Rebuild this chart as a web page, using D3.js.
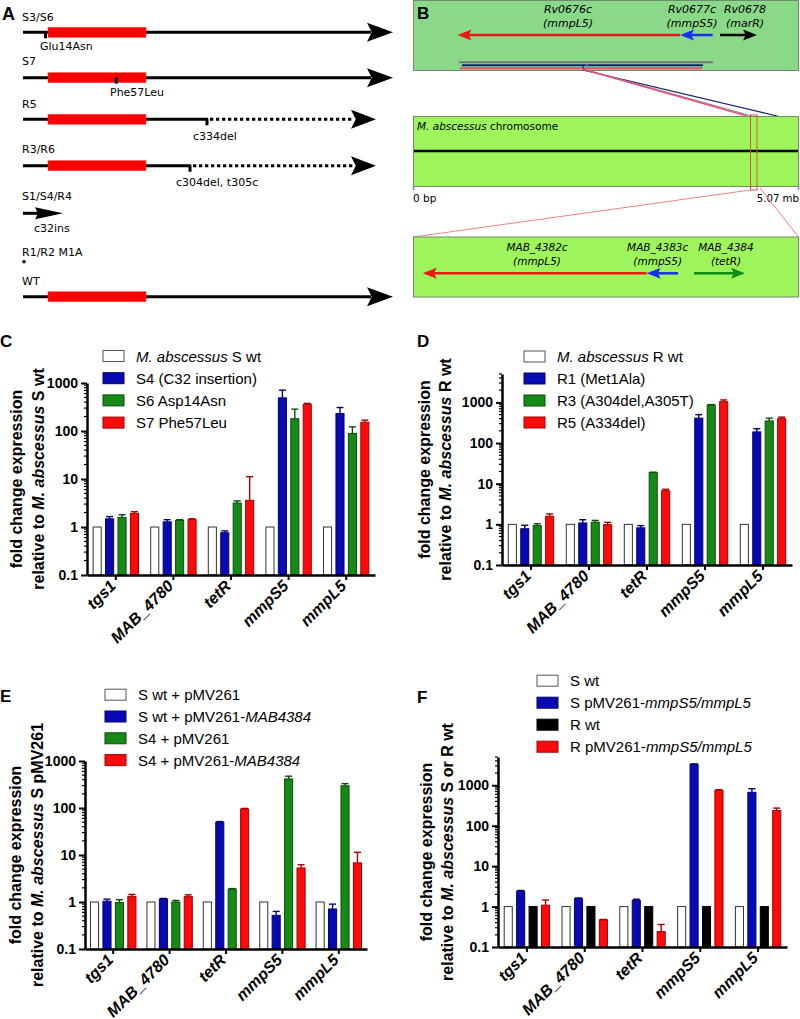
<!DOCTYPE html>
<html><head><meta charset="utf-8">
<script src="https://cdn.jsdelivr.net/npm/d3@7"></script>
<style>body{margin:0;background:#fff}svg{display:block}</style>
</head><body><svg id="fig" width="800" height="1019"></svg>
<script>
// ---------- DATA ----------
const genes = ["tgs1", "MAB_4780", "tetR", "mmpS5", "mmpL5"];
const majorTicks = [0.1, 1, 10, 100, 1000];

// Panel C
const cLabels = [[["M. abscessus", true], [" S wt", false]], [["S4 (C32 insertion)", false]], [["S6 Asp14Asn", false]], [["S7 Phe57Leu", false]]];
const cWt = [1, 1, 1, 1, 1];
const cS4 = [1.48, 1.28, 0.76, 490, 232];
const cS4Err = [1.65, 1.42, 0.83, 710, 308];
const cS6 = [1.58, 1.38, 3.15, 180, 89];
const cS6Err = [1.8, 1.42, 3.5, 285, 122];
const cS7 = [1.92, 1.42, 3.6, 358, 152];
const cS7Err = [2.08, 1.48, 11.2, 376, 168];

// Panel D
const dLabels = [[["M. abscessus", true], [" R wt", false]], [["R1 (Met1Ala)", false]], [["R3 (A304del,A305T)", false]], [["R5 (A334del)", false]]];
const dWt = [1, 1, 1, 1, 1];
const dR1 = [0.78, 1.08, 0.82, 410, 188];
const dR1Err = [0.95, 1.3, 0.93, 500, 225];
const dR3 = [0.93, 1.13, 18.8, 860, 350];
const dR3Err = [1.03, 1.25, 19.2, 885, 410];
const dR5 = [1.58, 0.98, 6.7, 1040, 398];
const dR5Err = [1.8, 1.12, 7.3, 1150, 435];

// Panel E
const eLabels = [[["S wt + pMV261", false]], [["S wt + pMV261-", false], ["MAB4384", true]], [["S4 + pMV261", false]], [["S4 + pMV261-", false], ["MAB4384", true]]];
const eWt = [1, 1, 1, 1, 1];
const eBlue = [1.04, 1.16, 50, 0.52, 0.71];
const eBlueErr = [1.15, 1.19, 51.5, 0.63, 0.9];
const eGreen = [0.97, 1.0, 1.88, 415, 297];
const eGreenErr = [1.12, 1.08, 1.93, 475, 330];
const eRed = [1.32, 1.3, 95, 5.3, 6.8];
const eRedErr = [1.45, 1.42, 98, 6.2, 11.4];

// Panel F
const fLabels = [[["S wt", false]], [["S pMV261-", false], ["mmpS5/mmpL5", true]], [["R wt", false]], [["R pMV261-", false], ["mmpS5/mmpL5", true]]];
const fSwt = [1, 1, 1, 1, 1];
const fBlue = [2.4, 1.58, 1.42, 3300, 670];
const fBlueErr = [2.5, 1.63, 1.52, 3380, 820];
const fRwt = [1, 1, 1, 1, 1];
const fRed = [1.08, 0.47, 0.24, 745, 238];
const fRedErr = [1.45, 0.48, 0.36, 775, 272];

// ---------- STYLE ----------
const C_WHITE = {fill: "#ffffff", stroke: "#333"};
const C_BLUE = {fill: "#0a0ab4", stroke: "#03036a"};
const C_GREEN = {fill: "#168a16", stroke: "#0a4d0a"};
const C_RED = {fill: "#ff0a0a", stroke: "#a00000"};
const C_BLACK = {fill: "#000000", stroke: "#000"};
const ARIAL = "'Liberation Sans', Arial, sans-serif";
const VERD = "'DejaVu Sans', Verdana, sans-serif";

const svg = d3.select("#fig");

function rich(textSel, parts) {
  parts.forEach(([t, it]) => {
    textSel.append("tspan").text(t).attr("font-style", it ? "italic" : null);
  });
  return textSel;
}

function drawBarPanel(p) {
  const g = svg.append("g");
  const y = d3.scaleLog().domain([0.1, p.yMax]).range([p.yBottom, p.yTop]);
  const x = d3.scaleBand().domain(genes).range([p.x0, p.x1]);
  const inner = d3.scaleBand().domain(d3.range(p.series.length)).range([-22.7, 22.7]).paddingInner(0.35);

  p.series.forEach((s, si) => {
    const sg = g.append("g");
    const cx = i => x(genes[i]) + x.bandwidth() / 2 + inner(si);
    sg.selectAll("rect").data(s.values).join("rect")
      .attr("x", (d, i) => cx(i))
      .attr("y", d => y(d))
      .attr("width", inner.bandwidth())
      .attr("height", d => p.yBottom - y(d))
      .attr("fill", s.col.fill).attr("stroke", s.col.stroke).attr("stroke-width", 1);
    if (s.errors) {
      const eg = sg.append("g").attr("stroke", s.col.stroke).attr("stroke-width", 1.4);
      s.errors.forEach((e, i) => {
        const mx = cx(i) + inner.bandwidth() / 2;
        eg.append("line").attr("x1", mx).attr("x2", mx).attr("y1", y(s.values[i])).attr("y2", y(e));
        eg.append("line").attr("x1", mx - 3.5).attr("x2", mx + 3.5).attr("y1", y(e)).attr("y2", y(e));
      });
    }
  });

  // minor ticks
  const minor = [];
  for (let k = -1; k <= 3; k++) for (let m = 2; m <= 9; m++) { const v = m * Math.pow(10, k); if (v <= p.yMax * 1.0001) minor.push(v); }
  g.append("g").selectAll("line").data(minor).join("line")
    .attr("x1", p.x0 - 3).attr("x2", p.x0).attr("y1", d => y(d)).attr("y2", d => y(d))
    .attr("stroke", "#000").attr("stroke-width", 1.2);

  const ya = g.append("g").attr("transform", `translate(${p.x0},0)`)
    .call(d3.axisLeft(y).tickValues(majorTicks).tickFormat(d => d < 1 ? "0.1" : String(d)).tickSize(6).tickSizeOuter(0));
  ya.select(".domain").attr("stroke-width", 2.5);
  ya.selectAll(".tick line").attr("stroke-width", 2);
  ya.selectAll(".tick text").attr("font-family", ARIAL).attr("font-weight", "bold").attr("font-size", 14).attr("fill", "#000");

  const xa = g.append("g").attr("transform", `translate(0,${p.yBottom})`)
    .call(d3.axisBottom(x).tickSize(5).tickSizeOuter(0));
  xa.select(".domain").attr("stroke-width", 2.5);
  xa.selectAll(".tick line").attr("stroke-width", 2);
  xa.selectAll(".tick text").remove();
  g.append("g").selectAll("text").data(genes).join("text")
    .attr("transform", d => `translate(${x(d) + x.bandwidth() / 2 + 1},${p.yBottom + 12}) rotate(-45)`)
    .attr("text-anchor", "end").attr("font-family", ARIAL).attr("font-weight", "bold")
    .attr("font-style", "italic").attr("font-size", 16).text(d => d);

  // y label
  const cy = (p.yBottom + p.yTop) / 2;
  g.append("text").attr("transform", `translate(${p.lab1},${cy}) rotate(-90)`)
    .attr("text-anchor", "middle").attr("font-family", ARIAL).attr("font-weight", "bold").attr("font-size", 16)
    .text("fold change expression");
  rich(g.append("text").attr("transform", `translate(${p.lab2},${cy}) rotate(-90)`)
    .attr("text-anchor", "middle").attr("font-family", ARIAL).attr("font-weight", "bold").attr("font-size", 16), p.ylab2);

  // legend
  p.series.forEach((s, i) => {
    const ly = p.legY + i * p.legDy;
    g.append("rect").attr("x", p.legX).attr("y", ly - 5.5).attr("width", 21).attr("height", 11)
      .attr("fill", s.col.fill).attr("stroke", s.col.stroke === "#333" ? "#555" : s.col.stroke).attr("stroke-width", 1);
    rich(g.append("text").attr("x", p.legX + 33).attr("y", ly + 5.5)
      .attr("font-family", ARIAL).attr("font-size", 15), s.label);
  });

  g.append("text").attr("x", p.letter[0]).attr("y", p.letter[1]).attr("font-family", ARIAL)
    .attr("font-weight", "bold").attr("font-size", 17).text(p.letter[2]);
}

drawBarPanel({
  x0: 87, x1: 375, yBottom: 575, yTop: 383, yMax: 1000,
  series: [
    {label: cLabels[0], values: cWt, col: C_WHITE},
    {label: cLabels[1], values: cS4, errors: cS4Err, col: C_BLUE},
    {label: cLabels[2], values: cS6, errors: cS6Err, col: C_GREEN},
    {label: cLabels[3], values: cS7, errors: cS7Err, col: C_RED}
  ],
  legX: 103, legY: 356, legDy: 22.2,
  lab1: 22, lab2: 44, ylab2: [["relative to ", false], ["M. abscessus", true], [" S wt", false]],
  letter: [0, 347, "C"]
});
drawBarPanel({
  x0: 502, x1: 792, yBottom: 565, yTop: 374, yMax: 5000,
  series: [
    {label: dLabels[0], values: dWt, col: C_WHITE},
    {label: dLabels[1], values: dR1, errors: dR1Err, col: C_BLUE},
    {label: dLabels[2], values: dR3, errors: dR3Err, col: C_GREEN},
    {label: dLabels[3], values: dR5, errors: dR5Err, col: C_RED}
  ],
  legX: 524, legY: 356.5, legDy: 22,
  lab1: 430, lab2: 451, ylab2: [["relative to ", false], ["M. abscessus", true], [" R wt", false]],
  letter: [417, 347, "D"]
});
drawBarPanel({
  x0: 85, x1: 367, yBottom: 949, yTop: 761, yMax: 1000,
  series: [
    {label: eLabels[0], values: eWt, col: C_WHITE},
    {label: eLabels[1], values: eBlue, errors: eBlueErr, col: C_BLUE},
    {label: eLabels[2], values: eGreen, errors: eGreenErr, col: C_GREEN},
    {label: eLabels[3], values: eRed, errors: eRedErr, col: C_RED}
  ],
  legX: 105, legY: 694.7, legDy: 21.8,
  lab1: 21, lab2: 43, ylab2: [["relative to ", false], ["M. abscessus", true], [" S pMV261", false]],
  letter: [0, 702, "E"]
});
drawBarPanel({
  x0: 498, x1: 787, yBottom: 947, yTop: 757, yMax: 5000,
  series: [
    {label: fLabels[0], values: fSwt, col: C_WHITE},
    {label: fLabels[1], values: fBlue, errors: fBlueErr, col: C_BLUE},
    {label: fLabels[2], values: fRwt, col: C_BLACK},
    {label: fLabels[3], values: fRed, errors: fRedErr, col: C_RED}
  ],
  legX: 537, legY: 680.7, legDy: 22,
  lab1: 432, lab2: 453, ylab2: [["relative to ", false], ["M. abscessus", true], [" S or R wt", false]],
  letter: [417, 703, "F"]
});

// ---------- PANEL A ----------
const A = svg.append("g");
function stealth(g, tip, back, y, h, color, dir) {
  const notch = back + dir * (h * 0.5);
  g.append("path").attr("d", `M${tip},${y} L${back},${y - h} L${notch},${y} L${back},${y + h} Z`).attr("fill", color);
}
const aRows = [
  {label: "S3/S6", ly: 20.5, y: 32.3, box: true, solidEnd: 370, tip: 393, mut: 45.5, mutTxt: "Glu14Asn", mtx: 40, mty: 50},
  {label: "S7", ly: 65, y: 77.7, box: true, solidEnd: 370, tip: 393, mut: 116.3, mutTxt: "Phe57Leu", mtx: 110, mty: 96},
  {label: "R5", ly: 108.3, y: 119.3, box: true, solidEnd: 207, dotEnd: 353, tip: 376, mut: 207, mutTxt: "c334del", mtx: 193, mty: 140},
  {label: "R3/R6", ly: 153.3, y: 165.7, box: true, solidEnd: 190, dotEnd: 353, tip: 376, mut: 190, mutTxt: "c304del, t305c", mtx: 176, mty: 186},
  {label: "WT", ly: 285, y: 296.7, box: true, solidEnd: 370, tip: 393}
];
aRows.forEach(r => {
  A.append("text").attr("x", 22).attr("y", r.ly).attr("font-family", VERD).attr("font-size", 11).text(r.label);
  A.append("line").attr("x1", 23).attr("x2", r.solidEnd + 1).attr("y1", r.y).attr("y2", r.y).attr("stroke", "#000").attr("stroke-width", 3);
  if (r.dotEnd) {
    A.append("line").attr("x1", r.solidEnd + 3).attr("x2", r.dotEnd).attr("y1", r.y).attr("y2", r.y)
      .attr("stroke", "#000").attr("stroke-width", 3).attr("stroke-dasharray", "3.3,2.7");
    stealth(A, r.tip, r.dotEnd - 2, r.y, 9.5, "#000", 1);
  } else {
    stealth(A, r.tip, r.solidEnd - 3, r.y, 9.5, "#000", 1);
  }
  if (r.box) A.append("rect").attr("x", 48).attr("y", r.y - 5).attr("width", 98).attr("height", 10).attr("fill", "#ff0000").attr("stroke", "#ff3a3a").attr("stroke-width", 0.5);
  if (r.mut) {
    A.append("rect").attr("x", r.mut - 1.5).attr("y", r.y - 0.5).attr("width", 3).attr("height", 6.5).attr("fill", "#000");
    A.append("text").attr("x", r.mtx).attr("y", r.mty).attr("font-family", VERD).attr("font-size", 11).text(r.mutTxt);
  }
});
A.append("text").attr("x", 22).attr("y", 200).attr("font-family", VERD).attr("font-size", 11).text("S1/S4/R4");
A.append("line").attr("x1", 23).attr("x2", 40).attr("y1", 213.3).attr("y2", 213.3).attr("stroke", "#000").attr("stroke-width", 3);
stealth(A, 63, 35, 213.3, 6, "#000", 1);
A.append("text").attr("x", 34).attr("y", 231.7).attr("font-family", VERD).attr("font-size", 11).text("c32ins");
A.append("text").attr("x", 22).attr("y", 256).attr("font-family", VERD).attr("font-size", 11).text("R1/R2 M1A");
A.append("rect").attr("x", 22.5).attr("y", 260.2).attr("width", 3).attr("height", 3).attr("fill", "#000");
A.append("text").attr("x", 2).attr("y", 20).attr("font-family", ARIAL).attr("font-weight", "bold").attr("font-size", 18).text("A");

// ---------- PANEL B ----------
const B = svg.append("g");
B.append("rect").attr("x", 413.5).attr("y", 0.5).attr("width", 385).attr("height", 70).attr("fill", "#89d989").attr("stroke", "#6f8a6f");
B.append("text").attr("x", 417).attr("y", 19).attr("font-family", ARIAL).attr("font-weight", "bold").attr("font-size", 17).text("B");
const topGenes = [["Rv0676c", "(mmpL5)", 568], ["Rv0677c", "(mmpS5)", 692], ["Rv0678", "(marR)", 745]];
topGenes.forEach(([a, b, cx]) => {
  B.append("text").attr("x", cx).attr("y", 12.5).attr("text-anchor", "middle").attr("font-family", VERD).attr("font-style", "italic").attr("font-size", 11).text(a);
  B.append("text").attr("x", cx).attr("y", 26.5).attr("text-anchor", "middle").attr("font-family", VERD).attr("font-style", "italic").attr("font-size", 11).text(b);
});
function geneArrow(g, from, tip, y, color, w) {
  const dir = tip > from ? 1 : -1;
  const back = tip - dir * 14;
  g.append("line").attr("x1", from).attr("x2", back + dir * 3).attr("y1", y).attr("y2", y).attr("stroke", color).attr("stroke-width", w);
  stealth(g, tip, back, y, 5.5, color, dir);
}
geneArrow(B, 680, 457.5, 35, "#ee1a10", 2.5);
geneArrow(B, 712.7, 680, 35, "#1a2ff0", 2.5);
geneArrow(B, 720, 757, 35, "#000", 2.5);
B.append("line").attr("x1", 459).attr("x2", 713).attr("y1", 62.3).attr("y2", 62.3).attr("stroke", "#777").attr("stroke-width", 2);
B.append("line").attr("x1", 462).attr("x2", 703).attr("y1", 65.3).attr("y2", 65.3).attr("stroke", "#1a2070").attr("stroke-width", 2);
B.append("line").attr("x1", 460).attr("x2", 702).attr("y1", 68.3).attr("y2", 68.3).attr("stroke", "#e8507a").attr("stroke-width", 2);
B.append("polyline").attr("points", "583,66 583,70 781,117").attr("fill", "none").attr("stroke", "#1a2070").attr("stroke-width", 1.2);
B.append("polyline").attr("points", "587,63 587,70 752,116").attr("fill", "none").attr("stroke", "#888").attr("stroke-width", 1.2);
B.append("polyline").attr("points", "582,69 747,116").attr("fill", "none").attr("stroke", "#e8507a").attr("stroke-width", 1.5);
B.append("rect").attr("x", 413.5).attr("y", 116.5).attr("width", 385).attr("height", 70).attr("fill", "#9ef55b").attr("stroke", "#6f8a6f");
B.append("line").attr("x1", 414).attr("x2", 798).attr("y1", 151).attr("y2", 151).attr("stroke", "#000").attr("stroke-width", 2.5);
rich(B.append("text").attr("x", 417).attr("y", 130).attr("font-family", VERD).attr("font-size", 10.5), [["M. abscessus", true], [" chromosome", false]]);
B.append("rect").attr("x", 750.5).attr("y", 115).attr("width", 6.5).attr("height", 75).attr("fill", "none").attr("stroke", "#e0503a").attr("stroke-width", 1);
B.append("line").attr("x1", 413.5).attr("x2", 413.5).attr("y1", 186).attr("y2", 190).attr("stroke", "#8080d0").attr("stroke-width", 1.5);
B.append("line").attr("x1", 798.5).attr("x2", 798.5).attr("y1", 186).attr("y2", 190).attr("stroke", "#8080d0").attr("stroke-width", 1.5);
B.append("text").attr("x", 413).attr("y", 202).attr("font-family", VERD).attr("font-size", 10.5).text("0 bp");
B.append("text").attr("x", 799).attr("y", 202).attr("text-anchor", "end").attr("font-family", VERD).attr("font-size", 10.2).text("5.07 mb");
B.append("line").attr("x1", 750.5).attr("y1", 190).attr("x2", 413.5).attr("y2", 237).attr("stroke", "#f08080").attr("stroke-width", 1);
B.append("line").attr("x1", 760).attr("y1", 188).attr("x2", 798.5).attr("y2", 237).attr("stroke", "#f08080").attr("stroke-width", 1);
B.append("rect").attr("x", 413.5).attr("y", 237).attr("width", 385).attr("height", 60).attr("fill", "#9ef55b").attr("stroke", "#6f8a6f");
const botGenes = [["MAB_4382c", "(mmpL5)", 537], ["MAB_4383c", "(mmpS5)", 657.7], ["MAB_4384", "(tetR)", 726]];
botGenes.forEach(([a, b, cx]) => {
  B.append("text").attr("x", cx).attr("y", 251).attr("text-anchor", "middle").attr("font-family", VERD).attr("font-style", "italic").attr("font-size", 10.5).text(a);
  B.append("text").attr("x", cx).attr("y", 265).attr("text-anchor", "middle").attr("font-family", VERD).attr("font-style", "italic").attr("font-size", 10.5).text(b);
});
geneArrow(B, 646.7, 422.7, 273.3, "#ee1a10", 2.5);
geneArrow(B, 678, 646.7, 273.3, "#1a2ff0", 2.5);
geneArrow(B, 694, 745, 273.3, "#138a13", 2.5);
</script>
</body></html>
